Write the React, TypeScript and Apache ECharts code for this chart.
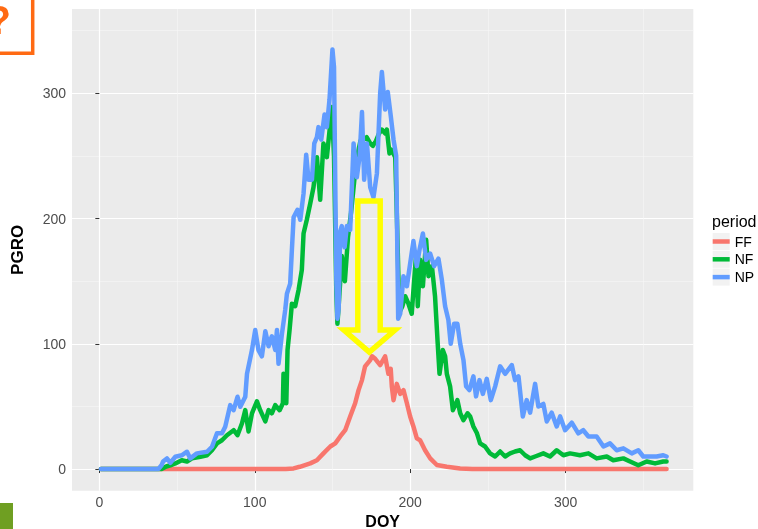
import React, { useEffect, useRef } from "react";
import * as echarts from "echarts";

const xTicks = [0, 100, 200, 300];
const xMinor = [50, 150, 250, 350];
const yTicks = [0, 100, 200, 300];
const yMinor = [50, 150, 250, 350];
const periods = ["FF", "NF", "NP"];
const periodColors = ["#F8766D", "#00BA38", "#619CFF"];

const ffDoy = [1, 120, 125, 129, 135.7, 140, 144.2, 148.6, 151.8, 155, 158.2, 161.4, 164.6, 166.8, 169, 171, 174.3, 175.5, 177.5, 180.7, 183.9, 186, 187.5, 188.2, 189.3, 191.4, 193.6, 195.7, 197.9, 200, 202.1, 204.3, 206.4, 209.6, 212.9, 217.2, 223.6, 232.2, 240, 365];
const ffVal = [0, 0, 0.5, 1.8, 4.5, 7, 12.5, 18, 20.5, 26, 31, 42, 52.5, 63, 71, 82, 87, 90, 88, 83, 90, 76, 80, 66, 55, 68, 60, 63, 52.5, 42, 34, 24.5, 23, 15, 8.5, 3.2, 1.8, 0.5, 0, 0];

const nfDoy = [1, 40, 43, 45.7, 48.9, 53, 56.4, 59.6, 65, 69.3, 72.5, 75.7, 78.9, 82.1, 86.4, 88.9, 91.8, 93.9, 96, 98.2, 101.4, 103.5, 106.8, 108.9, 111, 113.2, 116, 118.1, 118.5, 120.3, 121.1, 122.4, 123.9, 126, 128.2, 130.3, 131.4, 133.5, 135.7, 137.8, 140, 142.1, 144.2, 146.4, 148.6, 149.6, 151, 152.5, 153.2, 154, 156, 158, 160, 162, 164, 166, 168, 170, 172, 174.3, 176, 178, 180, 181.8, 184, 185, 186.7, 188, 190.4, 191.5, 193, 195, 196.8, 198.9, 201, 202.6, 203.9, 204.9, 206.4, 208.2, 210.3, 211.8, 214, 216, 217.6, 218.9, 221, 222.5, 223.6, 225.7, 227.5, 230.4, 232.2, 234.3, 236.9, 238.6, 240.7, 243, 245, 248.2, 251.4, 254.7, 257.9, 261.1, 264.3, 267.5, 270.7, 274, 277.2, 280.4, 285.7, 290, 294.3, 298.6, 302.9, 309.3, 314.7, 320, 326.5, 330.7, 337.2, 341.5, 346.8, 352.2, 357.6, 362.9, 365];
const nfVal = [0, 0, 2, 3, 4.5, 7, 6, 8.5, 9.8, 11, 15, 20.5, 23, 27, 31, 27, 36.5, 47, 30, 44.5, 54, 47, 38, 47, 44.5, 51, 47, 52.5, 76, 52.5, 95, 111, 132, 130, 143, 159, 188, 199, 212, 225, 249, 215, 260, 249, 276, 289, 250, 140, 116, 130, 170, 150, 185, 205, 230, 250, 262, 263, 265, 260, 258, 262, 268, 271, 268, 271, 252, 255, 249, 200, 125, 130, 138, 132, 124, 151, 172, 130, 167, 146, 183, 154, 162, 138, 103, 76, 95, 90, 76, 66, 47, 55, 44.5, 39, 44.5, 42, 34, 28.5, 20.5, 18, 12.5, 10, 14, 10, 12.5, 14, 15, 11, 8.5, 10, 12.5, 10, 15, 11, 12.5, 11, 12.5, 8.5, 10, 7, 8.5, 6, 3, 6, 4.5, 6, 6];

const npDoy = [1, 38, 40, 41, 43.5, 45.7, 48.9, 53, 56.4, 58.5, 62.8, 69.3, 72.5, 75.7, 78.9, 81, 84.2, 86.4, 88.9, 90.7, 93.9, 95, 98.2, 100.3, 102.4, 104.6, 106.8, 108.9, 111, 113.2, 114.3, 115.3, 117.5, 119.6, 120.7, 122.8, 123.9, 125, 127.5, 129.3, 131.4, 133.1, 134.6, 136.8, 138.3, 140, 141, 142.8, 144.9, 146.4, 148.1, 150, 151, 152.5, 153.2, 154, 155, 156, 157.8, 159.3, 161.4, 163.6, 165.7, 167.5, 169, 170.4, 172.2, 174.3, 176.4, 178.6, 180.7, 181.8, 183.9, 185.6, 187.6, 189.3, 191, 192.3, 193.6, 195.7, 197.9, 200, 202.1, 204.3, 206, 208.2, 210.3, 212.9, 215.4, 218.2, 220.4, 222.5, 224.6, 226.1, 228.3, 230.4, 232.2, 234.3, 236, 238.1, 240.7, 242.4, 244.6, 246.8, 249.3, 251.9, 254.7, 257.9, 261.1, 265.4, 267.5, 269.7, 272.5, 275, 277.2, 280.4, 282.5, 285.7, 287.9, 291.1, 294.3, 296.5, 299.7, 304, 308.2, 311.4, 314.7, 320, 324.4, 328.6, 332.9, 337.2, 342.6, 346.8, 350, 354.3, 358.6, 362.9, 365];
const npVal = [0, 0, 3, 6, 8.5, 5, 9.8, 11, 13.8, 8.5, 12.5, 13.8, 17.8, 28.5, 28.5, 33.8, 51, 47, 57.7, 49.7, 57.7, 76, 95, 111, 95, 90, 110, 98, 106, 95, 111, 84, 108, 127, 140, 148, 175, 201, 207, 199, 220, 251, 231, 231, 260, 265, 273, 263, 283, 273, 295, 335, 321, 150, 120, 128, 190, 194, 177, 194, 191, 260, 233, 250, 285, 231, 260, 225, 217, 236, 300, 317, 287, 301, 281, 263, 250, 120, 124, 154, 146, 164, 182, 162, 175, 188, 167, 172, 162, 168, 151, 130, 119, 100, 116, 116, 100, 87, 66, 63, 74, 58, 71, 60, 72, 55, 66, 82, 76, 83, 71, 74, 42, 55, 45, 68, 50, 52, 38, 45, 34, 42, 31, 37, 28.5, 31, 26, 26, 18, 20.5, 15, 16.5, 12.5, 15, 10, 10, 10, 11, 10];

const doys = [ffDoy, nfDoy, npDoy];
const vals = [ffVal, nfVal, npVal];

const FONT = "'Liberation Sans', Arial, sans-serif";

export default function App() {
  const ref = useRef<HTMLDivElement>(null);
  useEffect(() => {
    if (!ref.current) return;
    const chart = echarts.init(ref.current, undefined, { renderer: "svg" });
    const series = periods.map((name, i) => ({
      name,
      type: "line",
      data: doys[i].map((d, j) => [d, vals[i][j]]),
      showSymbol: false,
      symbol: "none",
      lineStyle: { color: periodColors[i], width: 4.5, join: "round", cap: "round" },
      itemStyle: { color: periodColors[i] },
      z: 3 + i,
    }));
    chart.setOption({
      animation: false,
      grid: {
        left: 72,
        right: 64.7,
        top: 9,
        bottom: 38.3,
        show: true,
        backgroundColor: "#EBEBEB",
        borderWidth: 0,
        outerBoundsMode: "none",
        containLabel: false,
      },
      xAxis: [
        {
          type: "value",
          min: -17.6,
          max: 382.2,
          position: "bottom",
          axisLine: { show: false },
          axisTick: { show: true, length: 4, customValues: xTicks, lineStyle: { color: "#333333", width: 1 } },
          axisLabel: { customValues: xTicks, color: "#4D4D4D", fontSize: 14, fontFamily: FONT, margin: 4 },
          splitLine: { show: true, lineStyle: { color: "#FFFFFF", width: 1.2 } },
          name: "DOY",
          nameLocation: "middle",
          nameGap: 11,
          nameTextStyle: { color: "#000000", fontSize: 16, lineHeight: 16, fontWeight: "bold", fontFamily: FONT },
        },
        {
          type: "value",
          min: -17.6,
          max: 382.2,
          position: "bottom",
          axisLine: { show: false },
          axisTick: { show: false, customValues: xMinor },
          axisLabel: { show: false, customValues: xMinor },
          splitLine: { show: true, lineStyle: { color: "#F7F7F7", width: 0.6 } },
        },
      ],
      yAxis: [
        {
          type: "value",
          min: -17.3,
          max: 367.3,
          position: "left",
          axisLine: { show: false },
          axisTick: { show: true, length: 4, customValues: yTicks, lineStyle: { color: "#333333", width: 1 } },
          axisLabel: { customValues: yTicks, color: "#4D4D4D", fontSize: 14, fontFamily: FONT, margin: 6 },
          splitLine: { show: true, lineStyle: { color: "#FFFFFF", width: 1.2 } },
          name: "PGRO",
          nameLocation: "middle",
          nameGap: 46,
          nameRotate: 90,
          nameTextStyle: { color: "#000000", fontSize: 17, fontWeight: "bold", fontFamily: FONT },
        },
        {
          type: "value",
          min: -17.3,
          max: 367.3,
          position: "left",
          axisLine: { show: false },
          axisTick: { show: false, customValues: yMinor },
          axisLabel: { show: false, customValues: yMinor },
          splitLine: { show: true, lineStyle: { color: "#F7F7F7", width: 0.6 } },
        },
      ],
      legend: {
        orient: "vertical",
        left: 712.7,
        top: 233,
        padding: 0,
        itemGap: 0.8,
        itemWidth: 17,
        itemHeight: 4.5,
        icon: "rect",
        data: periods,
        itemStyle: { borderWidth: 0 },
        textStyle: { color: "#000000", fontSize: 14, lineHeight: 17, fontFamily: FONT },
      },
      graphic: [
        ...periods.map((_, i) => ({
          type: "rect",
          z: 1,
          shape: { x: 712.7, y: 233 + i * 17.8, width: 17, height: 17 },
          style: { fill: "#F2F2F2" },
        })),
        {
          type: "text",
          x: 712,
          y: 221.7,
          style: { text: "period", fill: "#000000", fontSize: 16, fontFamily: FONT, verticalAlign: "middle", align: "left" },
        },
        {
          type: "polygon",
          z: 10,
          shape: {
            points: [
              [357.8, 201],
              [380.2, 201],
              [380.2, 330],
              [395, 330],
              [369.3, 352],
              [343.8, 330],
              [357.8, 330],
            ],
          },
          style: { fill: "none", stroke: "#FFFF00", lineWidth: 5.5, lineJoin: "miter" },
        },
        {
          type: "rect",
          shape: { x: -10, y: -10, width: 42.7, height: 63.3 },
          style: { fill: "none", stroke: "#FF6A13", lineWidth: 3.5 },
        },
        {
          type: "text",
          x: 11,
          y: 40,
          style: { text: "?", fill: "#FF6A13", fontSize: 40, fontWeight: "bold", fontFamily: FONT, align: "right", verticalAlign: "bottom" },
        },
        {
          type: "rect",
          shape: { x: 0, y: 503, width: 13, height: 26 },
          style: { fill: "#6F9F22" },
        },
      ],
      series,
    });
    return () => chart.dispose();
  }, []);
  return <div ref={ref} style={{ position: "fixed", left: 0, top: 0, width: 758, height: 529 }} />;
}
